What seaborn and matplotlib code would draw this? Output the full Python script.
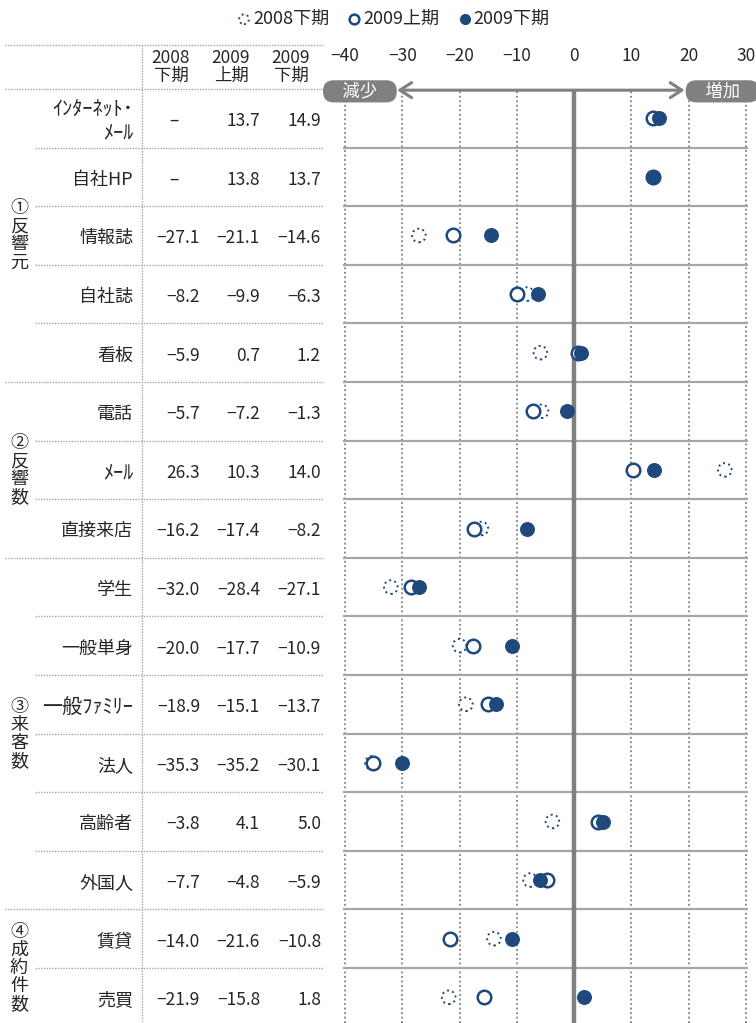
import numpy as np
import pandas as pd
import matplotlib
matplotlib.use('Agg')
import matplotlib.pyplot as plt
import matplotlib.transforms as mtransforms
from matplotlib.lines import Line2D
import seaborn as sns

# ---------------- data ----------------
categories = ['ｲﾝﾀｰﾈｯﾄ･\nﾒｰﾙ', '自社HP', '情報誌', '自社誌', '看板',
              '電話', 'ﾒｰﾙ', '直接来店',
              '学生', '一般単身', '一般ﾌｧﾐﾘｰ', '法人', '高齢者', '外国人',
              '賃貸', '売買']
groups = ['①\n反\n響\n元', '②\n反\n響\n数', '③\n来\n客\n数', '④\n成\n約\n件\n数']
group_sizes = [5, 3, 6, 2]
series_names = ['2008下期', '2009上期', '2009下期']
header_labels = ['2008\n下期', '2009\n上期', '2009\n下期']
v2008h2 = [np.nan, np.nan, -27.1, -8.2, -5.9, -5.7, 26.3, -16.2,
           -32.0, -20.0, -18.9, -35.3, -3.8, -7.7, -14.0, -21.9]
v2009h1 = [13.7, 13.8, -21.1, -9.9, 0.7, -7.2, 10.3, -17.4,
           -28.4, -17.7, -15.1, -35.2, 4.1, -4.8, -21.6, -15.8]
v2009h2 = [14.9, 13.7, -14.6, -6.3, 1.2, -1.3, 14.0, -8.2,
           -27.1, -10.9, -13.7, -30.1, 5.0, -5.9, -10.8, 1.8]
x_ticks = [-40, -30, -20, -10, 0, 10, 20, 30]
arrow_labels = ['減少', '増加']

# ---------------- style ----------------
sns.set_theme(style='white')
plt.rcParams['font.family'] = ['Noto Sans CJK JP', 'DejaVu Sans']
plt.rcParams['axes.unicode_minus'] = True

NAVY = '#1F497D'
GRID = '#808080'
SEP = '#a6a6a6'
TXT = '#262626'
FS = 12.5

W, H = 756, 1023
fig = plt.figure(figsize=(W / 100, H / 100), dpi=100)
fig.patch.set_facecolor('white')

n = len(categories)
px_top = 89
row_px = 58.6
ax_left, ax_right = 343.3, 747.7
ax = fig.add_axes([ax_left / W, 0, (ax_right - ax_left) / W, (H - px_top) / H])
ax.set_xlim(-40.3, 30.3)
ax.set_ylim(-0.5 + (H - px_top) / row_px, -0.5)

pos = np.arange(n)
series_values = [v2008h2, v2009h1, v2009h2]
df = pd.DataFrame({
    'category': np.tile(categories, 3),
    'pos': np.tile(pos, 3),
    'series': np.repeat(series_names, n),
    'value': np.concatenate(series_values),
})

styles = [
    dict(color='white', edgecolor=NAVY, linewidth=1.4, linestyle=(0, (1, 1.7)), zorder=4),
    dict(color='white', edgecolor=NAVY, linewidth=1.8, linestyle='-', zorder=5),
    dict(color=NAVY, edgecolor=NAVY, linewidth=1.0, linestyle='-', zorder=6),
]
for name, st in zip(series_names, styles):
    sub = df[df['series'] == name].dropna(subset=['value'])
    sns.scatterplot(data=sub, x='value', y='pos', ax=ax, s=95, label=name,
                    legend=False, **st)

# grid / axes decoration
ax.set_xticks(x_ticks)
ax.xaxis.tick_top()
ax.tick_params(axis='x', length=0, pad=17, labelsize=FS, labelcolor=TXT)
ax.set_yticks([])
ax.set_xlabel('')
ax.set_ylabel('')
for sp in ax.spines.values():
    sp.set_visible(False)
ax.grid(axis='x', linestyle=(0, (1, 1.5)), color=GRID, linewidth=1.3)
ax.set_axisbelow(True)
for b in np.arange(0.5, n - 1, 1.0):
    ax.axhline(b, color=SEP, lw=1.6, zorder=1)
ax.axvline(0, color=GRID, lw=3.2, zorder=2)

# arrow and labels
arrow_y = -0.48
ax.annotate('', xy=(-30.9, arrow_y), xytext=(19.3, arrow_y),
            arrowprops=dict(arrowstyle='<->,head_length=0.7,head_width=0.45',
                            color=GRID, lw=2.2, shrinkA=0, shrinkB=0),
            annotation_clip=False, zorder=3)
for xc, lab in zip([-37.4, 25.9], arrow_labels):
    ax.text(xc, arrow_y + 0.02, '\u3000' + lab + '\u3000', ha='center', va='center',
            color='white', fontsize=FS, clip_on=False, zorder=7,
            bbox=dict(boxstyle='round,pad=0.12,rounding_size=0.6', fc=GRID, ec='none'))

# ---------------- table ----------------
trans = mtransforms.blended_transform_factory(fig.transFigure, ax.transData)

def fx(p):
    return p / W

def fy(p):
    return 1 - p / H

# header
col_centers = [171, 231, 291]
col_rights = [200, 260, 321]
for xc, lab in zip(col_centers, header_labels):
    fig.text(fx(xc), fy(67), lab, ha='center', va='center', fontsize=FS,
             color=TXT, linespacing=1.05)

dot = (0, (1, 1))
fig.add_artist(Line2D([fx(5), fx(323)], [fy(45), fy(45)], color=SEP, lw=1.0,
                      linestyle=dot, transform=fig.transFigure))
fig.add_artist(Line2D([fx(142), fx(142)], [fy(45), fy(H)], color=SEP, lw=1.0,
                      linestyle=dot, transform=fig.transFigure))

# row separators in table
group_ends = np.cumsum(group_sizes)
boundaries = [(-0.5, True)] + [(i + 0.5, (i + 1) in group_ends) for i in range(n - 1)]
for b, full in boundaries:
    x0 = fx(5) if full else fx(35)
    ax.add_line(Line2D([x0, fx(323)], [b, b], color=SEP, lw=1.0, linestyle=dot,
                       transform=trans, clip_on=False))

def fmt(v):
    if np.isnan(v):
        return None
    s = f'{abs(v):.1f}'
    return ('\u2212' + s) if v < 0 else s

for i, cat in enumerate(categories):
    kw = dict(va='center', fontsize=FS, color=TXT, transform=trans, clip_on=False)
    has_halfwidth = any('\uff61' <= ch <= '\uff9f' for ch in cat)
    lab_fs = 14.5 if has_halfwidth else 13
    if '\n' in cat:
        ax.text(fx(133), i + 0.05, cat, ha='right', multialignment='right',
                linespacing=1.15, **{**kw, 'fontsize': lab_fs})
    else:
        ax.text(fx(133), i + 0.05, cat, ha='right', **{**kw, 'fontsize': lab_fs})
    for vals, xr, xc in zip(series_values, col_rights, col_centers):
        t = fmt(vals[i])
        if t is None:
            ax.text(fx(xc + 3), i + 0.05, '\u2013', ha='center', **kw)
        else:
            ax.text(fx(xr), i + 0.05, t, ha='right', **kw)

# group labels
start = 0
for g, size in zip(groups, group_sizes):
    center = start + (size - 1) / 2
    ax.text(fx(19), center, g, ha='center', va='center', fontsize=13,
            color=TXT, linespacing=1.0, transform=trans, clip_on=False)
    start += size

# legend
handles, labels = ax.get_legend_handles_labels()
fig.legend(handles, labels, loc='center', bbox_to_anchor=(0.519, fy(19)),
           ncol=3, frameon=False, fontsize=13, handletextpad=0.0,
           columnspacing=0.9, handlelength=1.0, markerscale=0.72,
           labelcolor=TXT)

fig.savefig('out.png', dpi=100, facecolor='white')
